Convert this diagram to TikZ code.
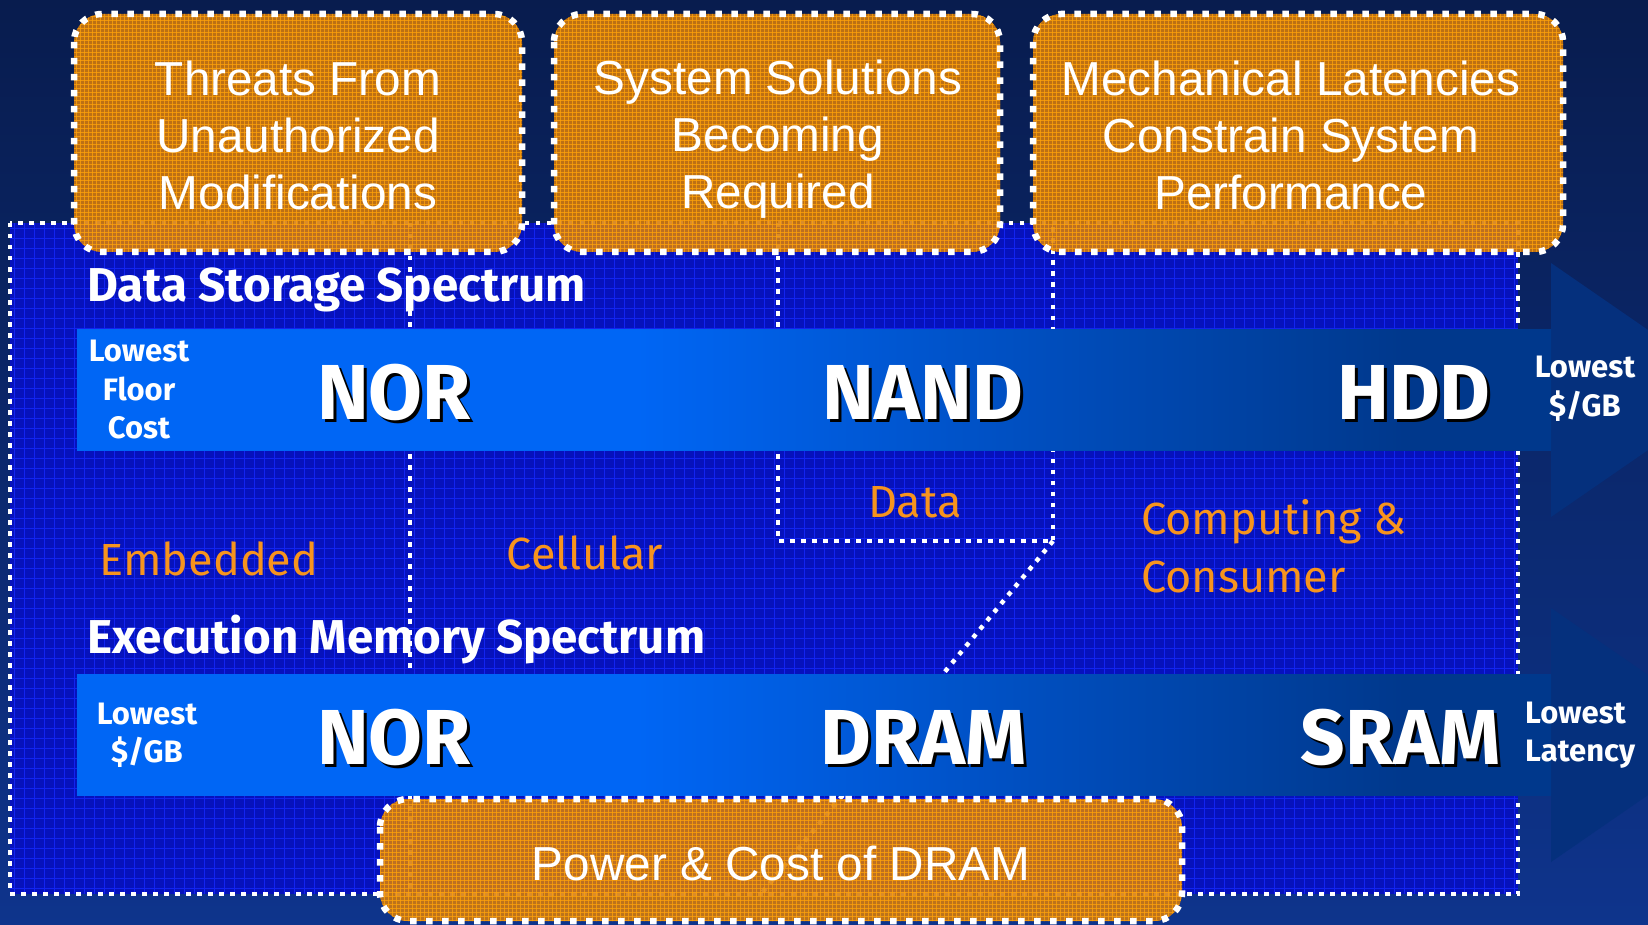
\documentclass[tikz,border=0pt]{standalone}
\usepackage{fontspec}
\setmainfont{Fira Sans}
\newfontfamily\arialf{Liberation Sans}
\usetikzlibrary{calc}
\definecolor{bgtop}{RGB}{8,28,78}
\definecolor{bgbot}{RGB}{14,52,140}
\definecolor{rectblue}{RGB}{6,18,188}
\definecolor{gridblue}{RGB}{18,36,240}
\definecolor{bandL}{RGB}{0,102,245}
\definecolor{bandD}{RGB}{0,56,140}
\definecolor{headblue}{RGB}{5,48,125}
\definecolor{boxorange}{RGB}{214,124,12}
\definecolor{boxgrid}{RGB}{255,162,10}
\definecolor{txtorange}{RGB}{247,148,29}
\pgfdeclarehorizontalshading{bandshade}{100bp}{color(0bp)=(bandL); color(25bp)=(bandL); color(44bp)=(bandL); color(70bp)=(bandD); color(100bp)=(bandD)}
\begin{document}
\begin{tikzpicture}[x=1pt,y=-1pt,
  thindots/.style={draw=white, line width=4.5pt, dash pattern=on 4.5pt off 6.5pt},
  boxdots/.style={draw=white, line width=6.5pt, dash pattern=on 6.5pt off 9.5pt},
  boxfill/.style={fill=boxorange, fill opacity=0.88},
  boxtext/.style={text=white, font=\arialf\fontsize{47.7}{57}\selectfont, align=center, inner sep=0pt},
  bigtxt/.style={text=white, font=\fontsize{78}{78}\selectfont\bfseries, inner sep=0pt},
  bigshadow/.style={text=black, font=\fontsize{78}{78}\selectfont\bfseries, inner sep=0pt},
  smalltxt/.style={text=white, font=\fontsize{31}{38.5}\selectfont\bfseries, inner sep=0pt, align=center},
  headtxt/.style={text=white, font=\fontsize{47.5}{47.5}\selectfont\bfseries, inner sep=0pt, anchor=base west},
  orgtxt/.style={text=txtorange, font=\fontsize{45}{58}\selectfont, inner sep=0pt},
  gridline/.style={draw=gridblue, line width=0.7pt},
  ogridline/.style={draw=boxgrid, line width=0.9pt, opacity=0.75},
  bandstyle/.style={shading=bandshade}
]
\useasboundingbox (0,0) rectangle (1648,925);
\clip (0,0) rectangle (1648,925);
\shade[top color=bgtop, bottom color=bgbot] (0,0) rectangle (1648,925);

% arrow heads
\fill[headblue] (1500,329) -- (1551,329) -- (1551,263) -- (1735,390) -- (1551,517) -- (1551,450) -- (1500,450) -- cycle;
\fill[headblue] (1500,674) -- (1551,674) -- (1551,608) -- (1735,735) -- (1551,862) -- (1551,795) -- (1500,795) -- cycle;

% big blue area
\fill[rectblue] (10,223) rectangle (1518,894);
\begin{scope}
  \clip (10,223) rectangle (1518,894);
  \foreach \gx in {14,24,...,1514} \draw[gridline] (\gx,223) -- (\gx,894);
  \foreach \gy in {228,238,...,890} \draw[gridline] (10,\gy) -- (1518,\gy);
\end{scope}

% dotted frame and dividers
\coordinate (fa) at (10,223);
\coordinate (fb) at (1518,894);
\draw[thindots] (fa) rectangle (fb);
\coordinate (la1) at (410,223);
\coordinate (la2) at (410,894);
\draw[thindots] (la1) -- (la2);
\coordinate (lb1) at (778,223);
\coordinate (lb2) at (778,541);
\coordinate (lc2) at (1053,541);
\coordinate (lc1) at (1053,223);
\draw[thindots] (lb1) -- (lb2) -- (lc2) -- (lc1);
\coordinate (ld2) at (761,894);
\draw[thindots] (lc2) -- (ld2);

% bands
\shade[bandstyle] (77,329) rectangle (1551,450);
\shade[bandstyle] (77,674) rectangle (1551,795);

% headings
\node[headtxt] (dss) at (87,301) {Data Storage Spectrum};
\node[headtxt] (ems) at (87,653) {Execution Memory Spectrum};

% small labels
\node[smalltxt] (lfc) at (139,390) {Lowest\\Floor\\Cost};
\node[smalltxt] (lgbr) at (1585,389) {Lowest\\\$/GB};
\node[smalltxt] (lgbl) at (147,735) {Lowest\\\$/GB};
\node[smalltxt, align=left, anchor=west] (llat) at (1525,735) {Lowest\\Latency};

% big labels with shadow
\node[bigshadow] (nor1s) at (397,395) {NOR};
\node[bigtxt] (nor1) at (394,392) {NOR};
\node[bigshadow] (nands) at (926,395) {NAND};
\node[bigtxt] (nand) at (923,392) {NAND};
\node[bigshadow] (hdds) at (1417,395) {HDD};
\node[bigtxt] (hdd) at (1414,392) {HDD};
\node[bigshadow] (nor2s) at (397,740) {NOR};
\node[bigtxt] (nor2) at (394,737) {NOR};
\node[bigshadow] (drams) at (927,740) {DRAM};
\node[bigtxt] (dram) at (924,737) {DRAM};
\node[bigshadow] (srams) at (1404,740) {SRAM};
\node[bigtxt] (sram) at (1401,737) {SRAM};

% orange labels
\node[orgtxt] (data) at (915,502) {Data};
\node[orgtxt] (emb) at (209,559) {Embedded};
\node[orgtxt] (cell) at (585,553) {Cellular};
\node[orgtxt, align=left, anchor=west] (comp) at (1141,546) {Computing \&\\Consumer};

% orange boxes
\fill[boxfill, rounded corners=28] (74,14) rectangle (522,252);
\fill[boxfill, rounded corners=28] (554,14) rectangle (1000,252);
\fill[boxfill, rounded corners=28] (1033,14) rectangle (1563,252);
\fill[boxfill, rounded corners=28] (380,799) rectangle (1182,921);
\begin{scope}
  \clip[rounded corners=28] (74,14) rectangle (522,252) (554,14) rectangle (1000,252)
     (1033,14) rectangle (1563,252) (380,799) rectangle (1182,921);
  \foreach \gx in {76,80,...,1564} \draw[ogridline] (\gx,0) -- (\gx,925);
  \foreach \gy in {16,20,...,924} \draw[ogridline] (70,\gy) -- (1570,\gy);
\end{scope}
\draw[boxdots, rounded corners=28] (74,14) rectangle (522,252);
\draw[boxdots, rounded corners=28] (554,14) rectangle (1000,252);
\draw[boxdots, rounded corners=28] (1033,14) rectangle (1563,252);
\draw[boxdots, rounded corners=28] (380,799) rectangle (1182,921);

\node[boxtext] (t1) at (298,135) {Threats From\\Unauthorized\\Modifications};
\node[boxtext] (t2) at (778,139) {System Solutions\\Becoming\\Required};
\node[boxtext] (t3) at (1291,135) {Mechanical Latencies\\Constrain System\\Performance};
\node[boxtext] (t4) at (781,863) {Power \& Cost of DRAM};
\end{tikzpicture}
\end{document}
